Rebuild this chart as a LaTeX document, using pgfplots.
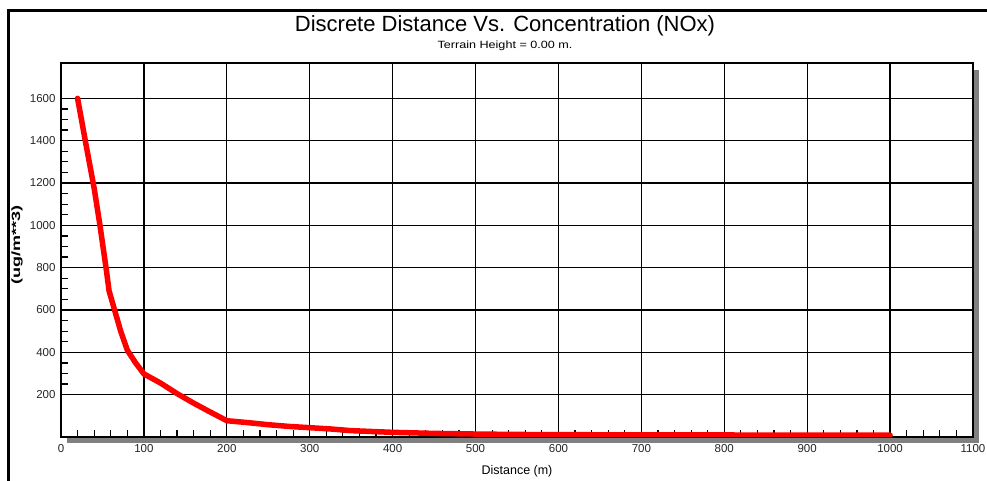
\documentclass[border=0pt]{standalone}
\usepackage{fontspec}
\setmainfont{Liberation Sans}
\usepackage{pgfplots}
\pgfplotsset{compat=1.18}
\begin{document}
\begin{tikzpicture}
\useasboundingbox (0pt,0pt) rectangle (987pt,481pt);
% outer frame
\draw[line width=3pt] (8.5pt,-5pt) -- (8.5pt,470pt) -- (995pt,470pt);
% drop shadow of the plot area
\fill[black!50] (67pt,38pt) rectangle (979pt,411pt);
\begin{axis}[
  at={(61pt,44pt)}, anchor=south west,
  scale only axis, width=912pt, height=374pt,
  xmin=0, xmax=1100, ymin=0, ymax=1767,
  axis background/.style={fill=white},
  axis line style={black, line width=1.5pt},
  grid=major, major grid style={black, line width=1.3pt},
  xtick={0,100,...,1100}, ytick={200,400,...,1600},
  minor x tick num=4, minor y tick num=3,
  tick align=inside, xtick pos=left, ytick pos=left,
  major tick length=7pt, minor tick length=6.5pt,
  every tick/.style={black, line width=1.2pt},
  tick label style={font=\fontsize{11.5}{12}\selectfont, text=black!85},
  /pgf/number format/assume math mode=true,
  /pgf/number format/1000 sep={},
  xticklabel style={yshift=-4pt},
  yticklabel style={xshift=-2pt},
]
\addplot[red, line width=5.5pt, line join=round, line cap=round] coordinates {
(20,1600) (30,1385) (40,1175) (47,1000) (55,780) (58,690) (65,595) (72,500)
(80,410) (90,350) (100,298) (120,255) (140,205) (160,160) (180,118) (200,77)
(225,68) (250,58) (275,50) (300,44) (325,38) (350,30) (375,26) (400,22)
(450,17) (500,14) (550,12) (600,11) (700,10) (800,9.5) (900,9) (1000,8.5)
};
\end{axis}
\node[font=\fontsize{22}{24}\selectfont] at (505pt,455pt) {Discrete Distance Vs. Concentration (NOx)};
\node[font=\fontsize{10.5}{12}\selectfont, xscale=1.2] at (505pt,435pt) {Terrain Height = 0.00 m.};
\node[font=\fontsize{12.5}{14}\selectfont] at (517pt,10pt) {Distance (m)};
\node[font=\bfseries\fontsize{12}{14}\selectfont, rotate=90, xscale=1.5] at (17pt,236pt) {(ug/m**3)};
\end{tikzpicture}
\end{document}
